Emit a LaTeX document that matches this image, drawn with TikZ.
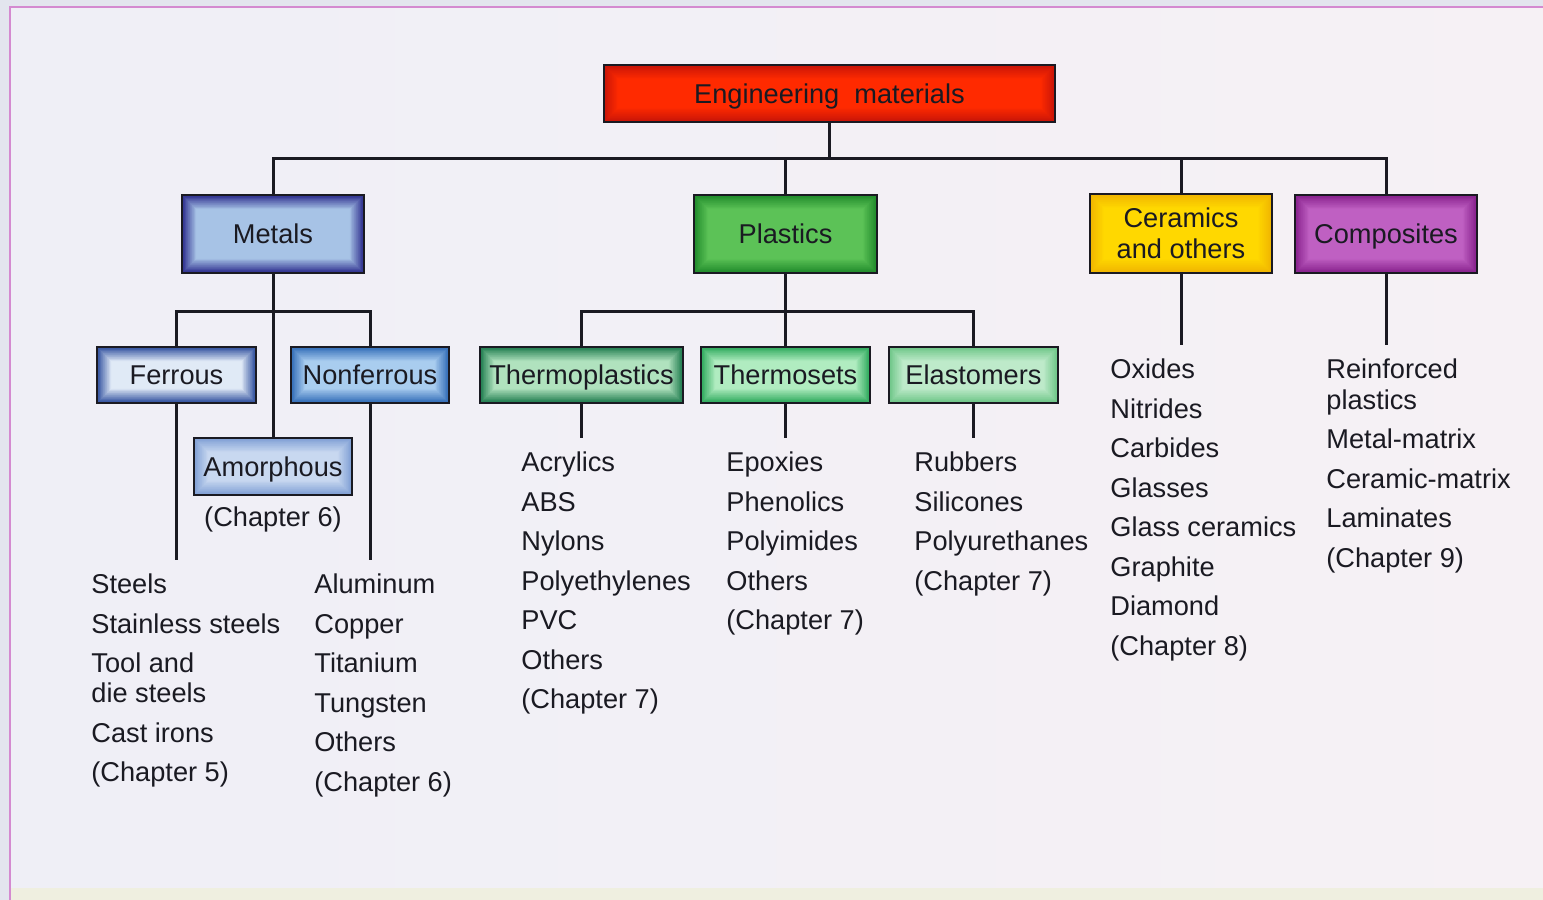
\documentclass[tikz,border=0pt]{standalone}
\usepackage{fontspec}
\setmainfont{Liberation Sans}
\newcommand\matfont{\fontsize{13.6}{15.5}\selectfont}
\definecolor{bgout}{HTML}{E3E5EE}
\definecolor{panelA}{HTML}{EFEFF6}
\definecolor{panelB}{HTML}{F6F1F5}
\definecolor{panelfoot}{HTML}{EFEFE0}
\definecolor{rim}{HTML}{D48AD0}
\definecolor{inkc}{HTML}{1A1A22}
% box edge / centre colours
\definecolor{emE}{HTML}{C81408}\definecolor{emC}{HTML}{FF2A00}
\definecolor{meE}{HTML}{2B2B8C}\definecolor{meC}{HTML}{A7C3E6}
\definecolor{plE}{HTML}{1F8A2A}\definecolor{plC}{HTML}{5CC257}
\definecolor{ceE}{HTML}{F0B400}\definecolor{ceC}{HTML}{FFD800}
\definecolor{coE}{HTML}{86208C}\definecolor{coC}{HTML}{BF60C2}
\definecolor{feE}{HTML}{2C4C9C}\definecolor{feC}{HTML}{E0EAF6}
\definecolor{nfE}{HTML}{2F6AB6}\definecolor{nfC}{HTML}{A9CDEF}
\definecolor{amE}{HTML}{7E9ED4}\definecolor{amC}{HTML}{C8D8F0}
\definecolor{tpE}{HTML}{1C7A4C}\definecolor{tpC}{HTML}{B0E2BE}
\definecolor{tsE}{HTML}{2BA85A}\definecolor{tsC}{HTML}{B0ECC0}
\definecolor{elE}{HTML}{6CC586}\definecolor{elC}{HTML}{BEEACA}
\begin{document}
\begin{tikzpicture}[x=0.5pt,y=-0.5pt,
  wire/.style={line width=1.5pt, draw=inkc},
  glow/.style 2 args={draw=inkc, line width=1.2pt, inner sep=0pt, font=\matfont,
    text=inkc, align=center,
    path picture={
      \foreach \i in {0,...,24}{
        \pgfmathtruncatemacro\p{min(100,\i*4.5)}
        \fill[#2!\p!#1]
          ([shift={({\i*0.32pt},{\i*0.32pt})}]path picture bounding box.south west)
          rectangle
          ([shift={({-\i*0.32pt},{-\i*0.32pt})}]path picture bounding box.north east);
      }
    }},
  oneline/.style={text height=9.8pt, text depth=0pt},
  item/.style={anchor=mid west, inner sep=0pt, font=\matfont, text=inkc}
]
\useasboundingbox (0,0) rectangle (1543,900);

% page background and panel
\fill[bgout] (0,0) rectangle (1543,900);
\shade[left color=panelA, right color=panelB] (10,7) rectangle (1543,890);
\fill[panelfoot] (10,888) rectangle (1543,900);
\draw[rim, line width=1pt] (10,900) -- (10,7) -- (1543,7);

% boxes
\node[glow={emE}{emC}, oneline, minimum width=225.5pt, minimum height=28.5pt]
  (em) at (829.5,93.5) {Engineering\ \ materials};

\node[glow={meE}{meC}, oneline, minimum width=91pt, minimum height=39pt]
  (metals) at (273,234) {Metals};
\node[glow={plE}{plC}, oneline, minimum width=91.5pt, minimum height=39pt]
  (plastics) at (785.5,234) {Plastics};
\node[glow={ceE}{ceC}, minimum width=91pt, minimum height=39.5pt]
  (ceramics) at (1181,233.5) {Ceramics\\and others};
\node[glow={coE}{coC}, oneline, minimum width=91pt, minimum height=39pt]
  (composites) at (1386,234) {Composites};

\node[glow={feE}{feC}, oneline, minimum width=79.5pt, minimum height=28pt]
  (ferrous) at (176.5,375) {Ferrous};
\node[glow={nfE}{nfC}, oneline, minimum width=79pt, minimum height=28pt]
  (nonferrous) at (370,375) {Nonferrous};
\node[glow={amE}{amC}, oneline, minimum width=79pt, minimum height=28.5pt]
  (amorphous) at (273,466.5) {Amorphous};

\node[glow={tpE}{tpC}, oneline, minimum width=101.5pt, minimum height=28pt]
  (thermoplastics) at (581.5,375) {Thermoplastics};
\node[glow={tsE}{tsC}, oneline, minimum width=84.5pt, minimum height=28pt]
  (thermosets) at (785.5,375) {Thermosets};
\node[glow={elE}{elC}, oneline, minimum width=84.5pt, minimum height=28pt]
  (elastomers) at (973.5,375) {Elastomers};

% bus levels and free ends
\coordinate (bus) at (0,158);
\coordinate (mbus) at (0,311);
\coordinate (pbus) at (0,311);
\coordinate (metend) at (0,560);
\coordinate (plend) at (0,438);
\coordinate (cmend) at (0,345);

% connectors
\draw[wire] (em.south) -- (em.south |- bus);
\draw[wire] (metals.north) -- (metals.north |- bus) -- (composites.north |- bus) -- (composites.north);
\draw[wire] (plastics.north) -- (plastics.north |- bus);
\draw[wire] (ceramics.north) -- (ceramics.north |- bus);

\draw[wire] (metals.south) -- (amorphous.north);
\draw[wire] (ferrous.north) -- (ferrous.north |- mbus) -- (nonferrous.north |- mbus) -- (nonferrous.north);
\draw[wire] (ferrous.south) -- (ferrous.south |- metend);
\draw[wire] (nonferrous.south) -- (nonferrous.south |- metend);

\draw[wire] (plastics.south) -- (thermosets.north);
\draw[wire] (thermoplastics.north) -- (thermoplastics.north |- pbus) -- (elastomers.north |- pbus) -- (elastomers.north);
\draw[wire] (thermoplastics.south) -- (thermoplastics.south |- plend);
\draw[wire] (thermosets.south) -- (thermosets.south |- plend);
\draw[wire] (elastomers.south) -- (elastomers.south |- plend);

\draw[wire] (ceramics.south) -- (ceramics.south |- cmend);
\draw[wire] (composites.south) -- (composites.south |- cmend);

% item lists
\node[item, anchor=mid] (amch) at (273,521) {(Chapter 6)};

\foreach \t/\y [count=\n] in {Steels/588, Stainless steels/628, Tool and/667,
    die steels/697, Cast irons/737, (Chapter 5)/776}
  \node[item] (fe\n) at (91,\y) {\t};

\foreach \t/\y [count=\n] in {Aluminum/588, Copper/628, Titanium/667,
    Tungsten/707, Others/746, (Chapter 6)/786}
  \node[item] (nf\n) at (314,\y) {\t};

\foreach \t/\y [count=\n] in {Acrylics/466, ABS/506, Nylons/545,
    Polyethylenes/585, PVC/624, Others/664, (Chapter 7)/703}
  \node[item] (tp\n) at (521,\y) {\t};

\foreach \t/\y [count=\n] in {Epoxies/466, Phenolics/506, Polyimides/545,
    Others/585, (Chapter 7)/624}
  \node[item] (ts\n) at (726,\y) {\t};

\foreach \t/\y [count=\n] in {Rubbers/466, Silicones/506, Polyurethanes/545,
    (Chapter 7)/585}
  \node[item] (el\n) at (914,\y) {\t};

\foreach \t/\y [count=\n] in {Oxides/373, Nitrides/413, Carbides/452,
    Glasses/492, Glass ceramics/531, Graphite/571, Diamond/610, (Chapter 8)/650}
  \node[item] (ce\n) at (1110,\y) {\t};

\foreach \t/\y [count=\n] in {Reinforced/373, plastics/404, Metal-matrix/443,
    Ceramic-matrix/483, Laminates/522, (Chapter 9)/562}
  \node[item] (co\n) at (1326,\y) {\t};
\end{tikzpicture}
\end{document}
